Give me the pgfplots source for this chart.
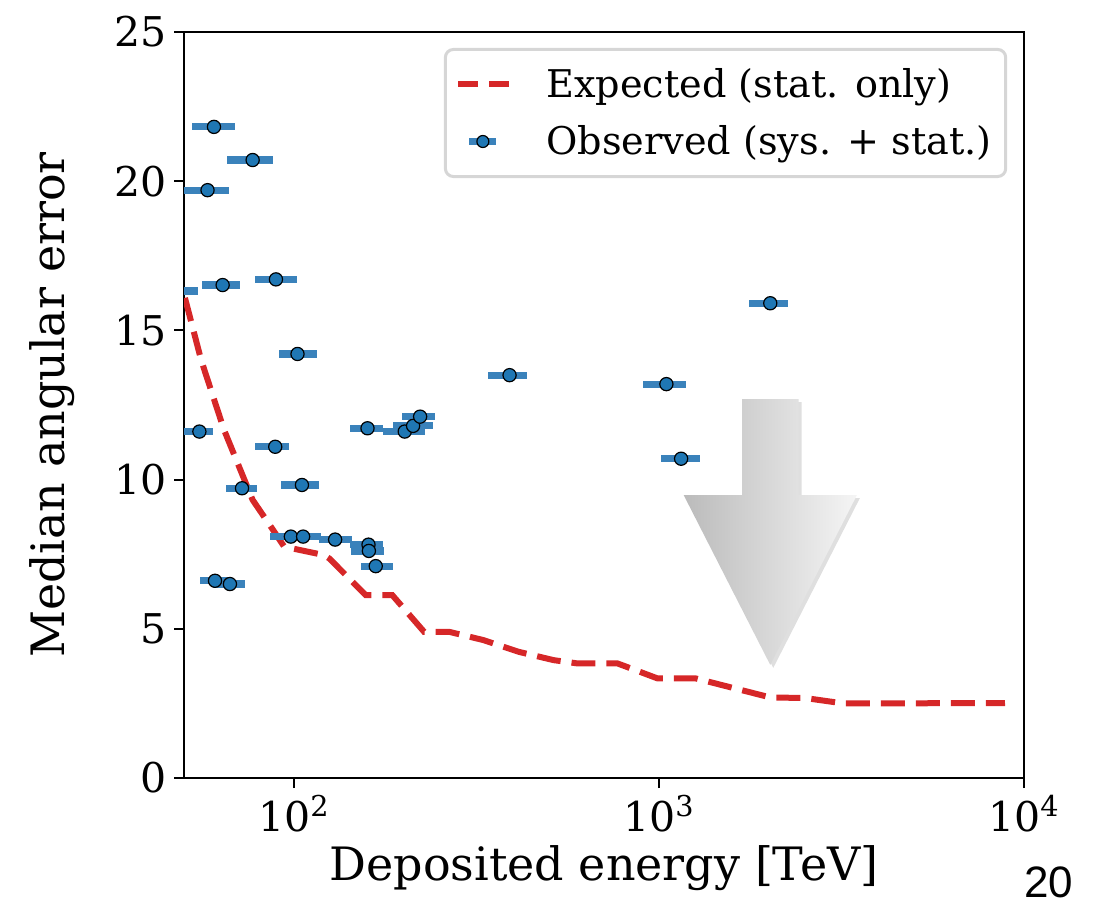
\documentclass[border=0pt]{standalone}
\usepackage{fontspec}
\setmainfont{DejaVu Serif}
\newfontfamily\pagefont{Liberation Sans}
\usepackage{pgfplots}
\usepackage{pgfplotstable}
\pgfplotsset{compat=1.18}
\usetikzlibrary{shadows}
\definecolor{mred}{HTML}{D62728}
\definecolor{mblue}{HTML}{1F77B4}
\definecolor{ebar}{HTML}{3A82BB}
\definecolor{lgray}{HTML}{D6D6D6}
\definecolor{arrL}{HTML}{BBBBBB}
\definecolor{arrR}{HTML}{F5F5F5}

\pgfplotstableread{
x y lo hi
60.4 21.82 52.6 69.0
77.1 20.71 65.5 87.4
58.0 19.70 49.5 66.5
63.8 16.52 55.9 71.0
89.3 16.71 78.5 101.9
47.0 16.32 39.4 54.6
102.3 14.21 90.8 115.6
389.8 13.50 340 434
55.1 11.61 50.1 60.1
159.1 11.72 142.6 174.9
88.9 11.10 78.5 97.1
201.2 11.61 174.9 228.8
212.1 11.80 186.7 241
221.7 12.11 197.5 243
72.1 9.71 65.2 79.3
105.2 9.82 92.1 117.5
98.1 8.09 85.8 110
106.0 8.09 94 118.6
129.7 7.99 117.5 143.9
160.1 7.82 142.6 175.8
160.5 7.61 143 176
167.6 7.10 152.4 186.7
60.8 6.61 55.3 66.5
66.8 6.50 60 73.5
2018 15.91 1762 2255
1048 13.20 905 1183
1150 10.70 1016 1294
}\obs

\newcommand\tickfont{\fontsize{20.5}{24}\selectfont}
\newcommand\labfont{\fontsize{23}{27}\selectfont}
\newcommand\legfont{\fontsize{19.1}{23}\selectfont}

\begin{document}
\begin{tikzpicture}
\path[use as bounding box] (-92pt,-70pt) rectangle (463pt,389pt);
\begin{axis}[
  at={(0,0)}, anchor=south west,
  scale only axis, width=420pt, height=373pt,
  xmode=log, log basis x=10,
  xmin=50, xmax=10000, ymin=0, ymax=25,
  xtick={100,1000,10000},
  xticklabels={10\textsuperscript{2},10\textsuperscript{3},10\textsuperscript{4}},
  ytick={0,5,10,15,20,25},
  tick pos=left, tick align=outside,
  major tick length=5pt, minor tick length=3pt,
  every tick/.style={black, line width=1pt},
  axis line style={line width=1pt},
  /pgf/number format/assume math mode=true,
  tick label style={font=\tickfont},
  xlabel={Deposited energy [TeV]},
  ylabel={Median angular error},
  every axis x label/.style={at={(axis description cs:0.5,0)}, anchor=center, yshift=-45pt, font=\labfont},
  every axis y label/.style={at={(axis description cs:0,0.5)}, anchor=center, xshift=-66pt, rotate=90, font=\labfont},
  clip marker paths=true,
  legend style={at={(rel axis cs:0.98,0.9786)}, anchor=north east,
    draw=lgray, line width=1.5pt, rounded corners=4pt, font=\legfont,
    inner xsep=5pt, inner ysep=7.5pt, row sep=8.5pt, column sep=15pt},
  legend cell align=left,
]
\path[drop shadow={opacity=0.25, shadow xshift=1.5pt, shadow yshift=-1.5pt},
      left color=arrL, right color=arrR]
  (axis cs:1689,12.70) -- (axis cs:2413,12.70) -- (axis cs:2413,9.48)
  -- (axis cs:3485,9.48) -- (axis cs:2018,3.79) -- (axis cs:1169,9.48)
  -- (axis cs:1689,9.48) -- cycle;

\addplot[mred, line width=3pt, dash pattern=on 12pt off 5.5pt,
  legend image code/.code={\draw[mred, line width=3pt, dash pattern=on 10pt off 5.5pt] (0pt,0pt) -- (25.5pt,0pt);}]
coordinates {
(50.3,16.09) (55.7,14.01) (64.4,11.66) (77.1,9.32) (86.5,8.42) (94.1,7.75)
(121,7.47) (124.9,7.36) (157.4,6.13) (186,6.13) (227.3,4.90) (266,4.90)
(331,4.62) (412.6,4.23) (514.5,3.95) (598,3.84) (770,3.84) (990,3.34)
(1259,3.34) (2018,2.70) (2517,2.68) (3198,2.50) (8870,2.51)
};
\addlegendentry{Expected (stat. only)}

\addplot[only marks, mark=*, mark size=3.3pt,
  mark options={fill=mblue, draw=black, line width=0.6pt},
  legend image code/.code={
    \draw[ebar, line width=3.5pt] (5.5pt,0pt) -- (19pt,0pt);
    \draw[fill=mblue, draw=black, line width=0.6pt] (12.25pt,0pt) circle (3pt);},
  error bars/.cd, x dir=both, x explicit, error mark=none,
  error bar style={line width=3.6pt, ebar}]
  table[x=x, y=y, x error plus expr=\thisrow{hi}-\thisrow{x},
        x error minus expr=\thisrow{x}-\thisrow{lo}] {\obs};
\addlegendentry{Observed (sys. + stat.)}
\end{axis}
\node[font=\pagefont\fontsize{22}{26}\selectfont] at (432.5pt,-52pt) {20};
\end{tikzpicture}
\end{document}
